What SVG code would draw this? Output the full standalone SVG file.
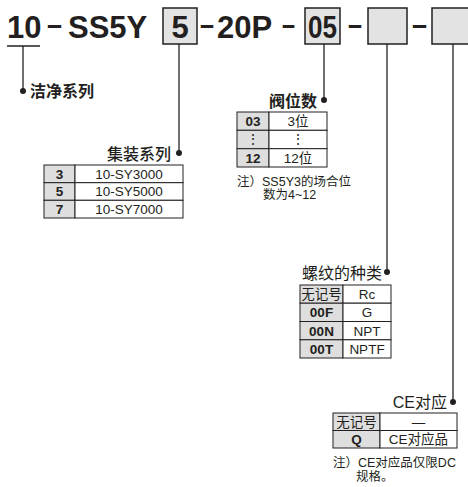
<svg xmlns="http://www.w3.org/2000/svg" width="468" height="487" viewBox="0 0 468 487">
<style>
.t{font-family:"Liberation Sans","Noto Sans CJK SC",sans-serif;fill:#231f20}
.h{font-size:31px;font-weight:bold}
.d{font-size:30px;font-weight:bold}
.lb{font-size:16px}
.c{font-size:13.5px;text-anchor:middle}
.cb{font-size:13.5px;text-anchor:middle;font-weight:bold}
.n{font-size:12.5px}
.box{fill:#e3e3e3;stroke:#231f20;stroke-width:1.5}
.ln{stroke:#231f20;stroke-width:1.3;fill:none}
.g{fill:#dedede;stroke:#231f20;stroke-width:1}
.w{fill:#fff;stroke:#231f20;stroke-width:1}
</style>
<g id="header">
<text class="t h" x="7" y="38">10</text>
<text class="t d" x="47" y="34.5" textLength="15" lengthAdjust="spacingAndGlyphs">–</text>
<text class="t h" x="68" y="38">SS5Y</text>
<rect class="box" x="163" y="8" width="34" height="36"/>
<text class="t h" x="180" y="38" text-anchor="middle">5</text>
<text class="t d" x="200" y="34.5" textLength="14" lengthAdjust="spacingAndGlyphs">–</text>
<text class="t h" x="217" y="38">20P</text>
<text class="t d" x="282" y="34.5" textLength="13" lengthAdjust="spacingAndGlyphs">–</text>
<rect class="box" x="305" y="8" width="35" height="36"/>
<text class="t h" x="308" y="38" textLength="29" lengthAdjust="spacingAndGlyphs">05</text>
<text class="t d" x="348" y="34.5" textLength="14" lengthAdjust="spacingAndGlyphs">–</text>
<rect class="box" x="368" y="8" width="39" height="36"/>
<text class="t d" x="412" y="34.5" textLength="15" lengthAdjust="spacingAndGlyphs">–</text>
<rect class="box" x="432" y="8" width="40" height="36"/>
</g>
<g id="connectors">
<line class="ln" x1="7" y1="46" x2="40" y2="46"/>
<line class="ln" x1="23" y1="46" x2="23" y2="91"/>
<line class="ln" x1="179" y1="44" x2="179" y2="153"/>
<line class="ln" x1="324" y1="44" x2="324" y2="100"/>
<line class="ln" x1="387" y1="44" x2="387" y2="272"/>
<line class="ln" x1="453" y1="44" x2="453" y2="402"/>
<circle cx="23" cy="91" r="3" fill="#231f20"/>
<circle cx="179" cy="153" r="3" fill="#231f20"/>
<circle cx="324" cy="100" r="3" fill="#231f20"/>
<circle cx="387" cy="272" r="3" fill="#231f20"/>
<circle cx="453" cy="402" r="3" fill="#231f20"/>
</g>
<g id="clean">
<text class="t lb" x="30" y="97" font-weight="bold">洁净系列</text>
</g>
<g id="series">
<text class="t lb" x="171" y="160" text-anchor="end" font-weight="500">集装系列</text>
<rect class="g" x="44" y="165" width="31" height="17.7"/><rect class="w" x="75" y="165" width="108" height="17.7"/>
<rect class="g" x="44" y="182.7" width="31" height="17.6"/><rect class="w" x="75" y="182.7" width="108" height="17.6"/>
<rect class="g" x="44" y="200.3" width="31" height="17.7"/><rect class="w" x="75" y="200.3" width="108" height="17.7"/>
<text class="t cb" x="59.5" y="178.8">3</text><text class="t c" x="129" y="178.8">10-SY3000</text>
<text class="t cb" x="59.5" y="196.4">5</text><text class="t c" x="129" y="196.4">10-SY5000</text>
<text class="t cb" x="59.5" y="214">7</text><text class="t c" x="129" y="214">10-SY7000</text>
</g>
<g id="stations">
<text class="t lb" x="317" y="107" text-anchor="end" font-weight="bold">阀位数</text>
<rect class="g" x="237" y="112" width="32" height="18.3"/><rect class="w" x="269" y="112" width="58" height="18.3"/>
<rect class="g" x="237" y="130.3" width="32" height="18.4"/><rect class="w" x="269" y="130.3" width="58" height="18.4"/>
<rect class="g" x="237" y="148.7" width="32" height="18.3"/><rect class="w" x="269" y="148.7" width="58" height="18.3"/>
<text class="t cb" x="253" y="126.3">03</text><text class="t c" x="298" y="126.3">3位</text>
<text class="t c" x="253" y="144" font-family="DejaVu Sans" font-size="11">⋮</text><text class="t c" x="298" y="144" font-family="DejaVu Sans" font-size="11">⋮</text>
<text class="t cb" x="253" y="163">12</text><text class="t c" x="298" y="163">12位</text>
<text class="t n" x="237" y="185.5">注）SS5Y3的场合位</text>
<text class="t n" x="263" y="199">数为4~12</text>
</g>
<g id="thread">
<text class="t lb" x="382" y="279" text-anchor="end">螺纹的种类</text>
<rect class="g" x="300" y="285" width="43" height="18.2"/><rect class="w" x="343" y="285" width="48" height="18.2"/>
<rect class="g" x="300" y="303.2" width="43" height="18.3"/><rect class="w" x="343" y="303.2" width="48" height="18.3"/>
<rect class="g" x="300" y="321.5" width="43" height="18.3"/><rect class="w" x="343" y="321.5" width="48" height="18.3"/>
<rect class="g" x="300" y="339.8" width="43" height="18.2"/><rect class="w" x="343" y="339.8" width="48" height="18.2"/>
<text class="t c" x="321.5" y="299">无记号</text><text class="t c" x="367" y="299">Rc</text>
<text class="t cb" x="321.5" y="317.2">00F</text><text class="t c" x="367" y="317.2">G</text>
<text class="t cb" x="321.5" y="335.5">00N</text><text class="t c" x="367" y="335.5">NPT</text>
<text class="t cb" x="321.5" y="353.7">00T</text><text class="t c" x="367" y="353.7">NPTF</text>
</g>
<g id="ce">
<text class="t lb" x="447" y="408" text-anchor="end">CE对应</text>
<rect class="g" x="333" y="413" width="47" height="17.5"/><rect class="w" x="380" y="413" width="77" height="17.5"/>
<rect class="g" x="333" y="430.5" width="47" height="17.5"/><rect class="w" x="380" y="430.5" width="77" height="17.5"/>
<text class="t c" x="356.5" y="426.8">无记号</text><text class="t c" x="418.5" y="426.8">—</text>
<text class="t cb" x="356.5" y="444.3">Q</text><text class="t c" x="418.5" y="444.3">CE对应品</text>
<text class="t n" x="333" y="467">注）CE对应品仅限DC</text>
<text class="t n" x="356" y="481">规格。</text>
</g>
</svg>
